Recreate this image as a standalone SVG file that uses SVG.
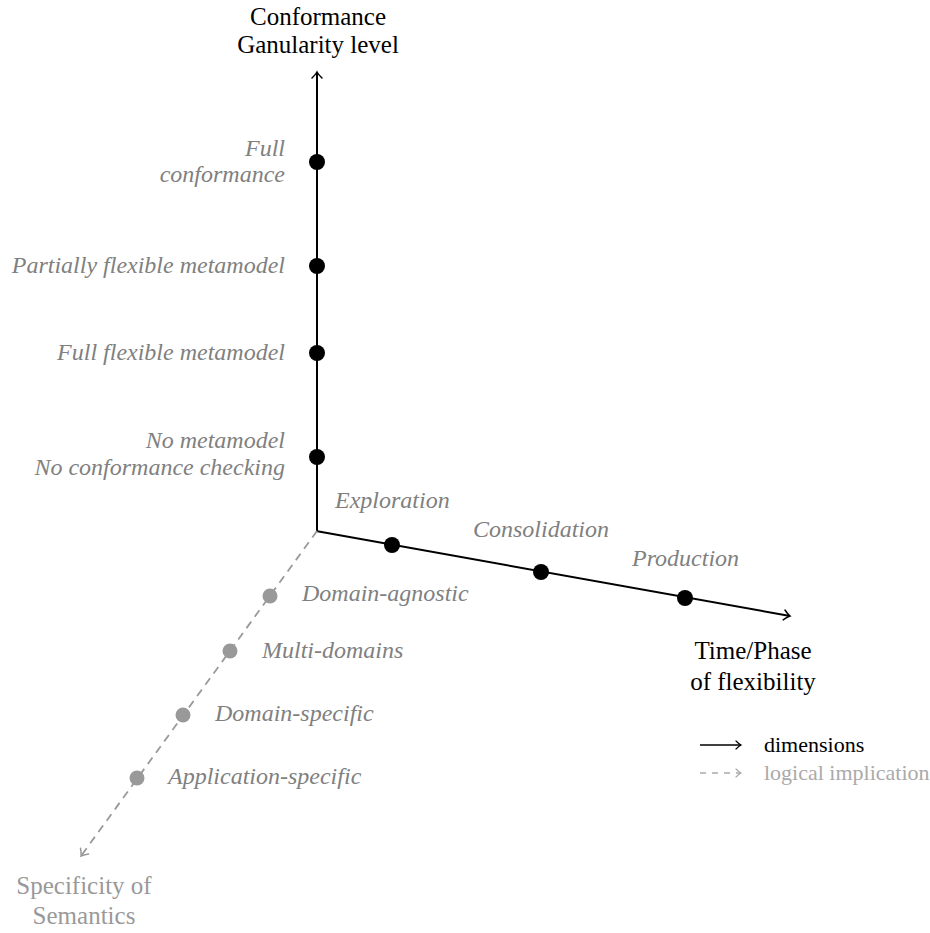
<svg xmlns="http://www.w3.org/2000/svg" width="930" height="933" viewBox="0 0 930 933">
<style>
.ax{font-family:"Liberation Serif","Times New Roman",serif;font-size:25px;fill:#000}
.axg{font-family:"Liberation Serif","Times New Roman",serif;font-size:25px;fill:#999}
.lab{font-family:"Liberation Serif","Times New Roman",serif;font-size:24px;font-style:italic;fill:#808080}
.leg{font-family:"Liberation Serif","Times New Roman",serif;font-size:22px;fill:#000}
.legg{font-family:"Liberation Serif","Times New Roman",serif;font-size:22px;fill:#aaa}
.solid{stroke:#000;stroke-width:2;fill:none}
.dash{stroke:#999;stroke-width:1.8;fill:none;stroke-dasharray:8 6}
.bd{fill:#000}
.gd{fill:#999}
</style>
<defs>
<marker id="ah" markerUnits="userSpaceOnUse" viewBox="-10 -8 12 16" markerWidth="12" markerHeight="16" refX="0" refY="0" orient="auto">
<path d="M-6,-5 Q-2,-1 0,0 Q-2,1 -6,5" fill="none" stroke="#000" stroke-width="1.5" stroke-linecap="round"/>
</marker>
<marker id="ahg" markerUnits="userSpaceOnUse" viewBox="-10 -8 12 16" markerWidth="12" markerHeight="16" refX="0" refY="0" orient="auto">
<path d="M-6,-5 Q-2,-1 0,0 Q-2,1 -6,5" fill="none" stroke="#999" stroke-width="1.5" stroke-linecap="round"/>
</marker>
<marker id="ahl" markerUnits="userSpaceOnUse" viewBox="-10 -8 12 16" markerWidth="12" markerHeight="16" refX="0" refY="0" orient="auto">
<path d="M-5,-4 Q-2,-1 0,0 Q-2,1 -5,4" fill="none" stroke="#000" stroke-width="1.2" stroke-linecap="round"/>
</marker>
<marker id="ahlg" markerUnits="userSpaceOnUse" viewBox="-10 -8 12 16" markerWidth="12" markerHeight="16" refX="0" refY="0" orient="auto">
<path d="M-5,-4 Q-2,-1 0,0 Q-2,1 -5,4" fill="none" stroke="#aaa" stroke-width="1.2" stroke-linecap="round"/>
</marker>
</defs>

<g id="connectors">
<line class="solid" x1="317" y1="532" x2="317" y2="72" marker-end="url(#ah)"/>
<line class="solid" x1="316" y1="531" x2="790" y2="616" marker-end="url(#ah)"/>
<line class="dash" x1="317" y1="531" x2="81" y2="856" marker-end="url(#ahg)"/>
</g>

<g id="axis-conformance">
<text class="ax" x="318" y="25" text-anchor="middle">Conformance</text>
<text class="ax" x="318" y="53" text-anchor="middle">Ganularity level</text>
</g>
<g id="axis-time">
<text class="ax" x="753" y="659" text-anchor="middle">Time/Phase</text>
<text class="ax" x="753" y="690" text-anchor="middle">of flexibility</text>
</g>
<g id="axis-specificity">
<text class="axg" x="84" y="894" text-anchor="middle">Specificity of</text>
<text class="axg" x="84" y="924" text-anchor="middle">Semantics</text>
</g>

<g id="full-conformance">
<circle class="bd" cx="317" cy="162" r="8"/>
<text class="lab" x="285" y="156" text-anchor="end">Full</text>
<text class="lab" x="285" y="182" text-anchor="end">conformance</text>
</g>
<g id="partially-flexible">
<circle class="bd" cx="317" cy="266" r="8"/>
<text class="lab" x="285" y="273" text-anchor="end">Partially flexible metamodel</text>
</g>
<g id="full-flexible">
<circle class="bd" cx="317" cy="353" r="8"/>
<text class="lab" x="285" y="360" text-anchor="end">Full flexible metamodel</text>
</g>
<g id="no-metamodel">
<circle class="bd" cx="317" cy="457" r="8"/>
<text class="lab" x="285" y="448" text-anchor="end">No metamodel</text>
<text class="lab" x="285" y="475" text-anchor="end">No conformance checking</text>
</g>

<g id="exploration">
<circle class="bd" cx="392" cy="545" r="8"/>
<text class="lab" x="335" y="508">Exploration</text>
</g>
<g id="consolidation">
<circle class="bd" cx="541" cy="572" r="8"/>
<text class="lab" x="473" y="537">Consolidation</text>
</g>
<g id="production">
<circle class="bd" cx="685" cy="598" r="8"/>
<text class="lab" x="632" y="566">Production</text>
</g>

<g id="domain-agnostic">
<circle class="gd" cx="270" cy="596" r="7.5"/>
<text class="lab" x="302" y="601">Domain-agnostic</text>
</g>
<g id="multi-domains">
<circle class="gd" cx="230" cy="651" r="7.5"/>
<text class="lab" x="262" y="658">Multi-domains</text>
</g>
<g id="domain-specific">
<circle class="gd" cx="183" cy="715" r="7.5"/>
<text class="lab" x="215" y="721">Domain-specific</text>
</g>
<g id="application-specific">
<circle class="gd" cx="137" cy="778" r="7.5"/>
<text class="lab" x="168" y="784">Application-specific</text>
</g>

<g id="legend">
<line x1="700" y1="745" x2="741" y2="745" stroke="#000" stroke-width="1.3" marker-end="url(#ahl)"/>
<text class="leg" x="764" y="752">dimensions</text>
<line x1="700" y1="773" x2="741" y2="773" stroke="#aaa" stroke-width="1.3" stroke-dasharray="6 6" marker-end="url(#ahlg)"/>
<text class="legg" x="764" y="780">logical implication</text>
</g>
</svg>
